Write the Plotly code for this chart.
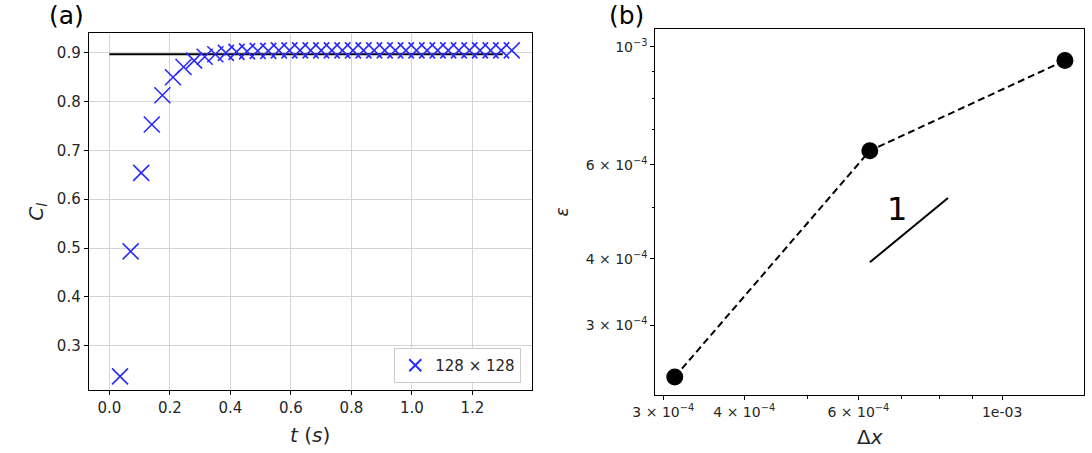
import math
import plotly.graph_objects as go

# ---------------- data: panel (a) ----------------
t_values = [0.035, 0.070, 0.105, 0.140, 0.175, 0.210, 0.245, 0.280, 0.315, 0.350,
            0.385, 0.420, 0.455, 0.490, 0.525, 0.560, 0.595, 0.630, 0.665, 0.700,
            0.735, 0.770, 0.805, 0.840, 0.875, 0.910, 0.945, 0.980, 1.015, 1.050,
            1.085, 1.120, 1.155, 1.190, 1.225, 1.260, 1.295, 1.330]
cl_values = [0.237, 0.493, 0.654, 0.753, 0.813, 0.850, 0.871, 0.884, 0.892, 0.897,
             0.900, 0.902, 0.903, 0.904, 0.904, 0.905, 0.905, 0.905, 0.905, 0.905,
             0.905, 0.905, 0.905, 0.905, 0.905, 0.905, 0.905, 0.905, 0.905, 0.905,
             0.905, 0.905, 0.905, 0.905, 0.905, 0.905, 0.905, 0.905]
ref_t = [0.0, 1.3]
ref_cl = [0.897, 0.897]
series_name = "128 × 128"

# ---------------- data: panel (b) ----------------
dx_values = [3.125e-4, 6.25e-4, 1.25e-3]
err_values = [2.40e-4, 6.38e-4, 9.42e-4]
slope_x = [6.25e-4, 8.25e-4]
slope_y = [3.94e-4, 5.20e-4]
slope_label = "1"
slope_label_pos = (6.88e-4, 4.97e-4)

xb_tickvals = [3e-4, 4e-4, 6e-4, 1e-3]
xb_ticktext = ["3 × 10<sup>−4</sup>", "4 × 10<sup>−4</sup>", "6 × 10<sup>−4</sup>", "1e-03"]
xb_minor = [5e-4, 7e-4, 8e-4, 9e-4]
yb_tickvals = [3e-4, 4e-4, 6e-4, 1e-3]
yb_ticktext = ["3 × 10<sup>−4</sup>", "4 × 10<sup>−4</sup>", "6 × 10<sup>−4</sup>", "10<sup>−3</sup>"]
yb_minor = [5e-4, 7e-4, 8e-4, 9e-4]
grid_b = 1e-3

W, H = 1092, 453
FONT = "DejaVu Sans"
TXT = "#262626"
GRID = "#d4d4d4"

fig = go.Figure()

fig.add_trace(go.Scatter(x=ref_t, y=ref_cl, mode="lines",
                         line=dict(color="black", width=2),
                         showlegend=False, xaxis="x", yaxis="y"))
fig.add_trace(go.Scatter(x=t_values, y=cl_values, mode="markers", name=series_name,
                         marker=dict(symbol="x-thin-open", size=16, color="#2a2aff",
                                     line=dict(color="#2a2aff", width=1.6)),
                         xaxis="x", yaxis="y"))

fig.add_trace(go.Scatter(x=dx_values, y=err_values, mode="lines+markers",
                         line=dict(color="black", width=2, dash="7px,4px"),
                         marker=dict(color="black", size=17),
                         showlegend=False, xaxis="x2", yaxis="y2"))
fig.add_trace(go.Scatter(x=slope_x, y=slope_y, mode="lines",
                         line=dict(color="black", width=2),
                         showlegend=False, xaxis="x2", yaxis="y2"))

def px_x(p):
    return p / W

def px_y(p):
    return (H - p) / H

axis_common = dict(showline=True, linecolor="black", linewidth=1.3, mirror=True,
                   ticks="outside", ticklen=4, tickcolor="black", zeroline=False,
                   tickfont=dict(family=FONT, size=15, color=TXT))
log_font = dict(family=FONT, size=14, color=TXT)

fig.update_layout(
    width=W, height=H,
    margin=dict(l=0, r=0, t=0, b=0),
    paper_bgcolor="white", plot_bgcolor="white",
    font=dict(family=FONT, color=TXT),
    xaxis=dict(domain=[px_x(67.3), px_x(520)], range=[-0.068, 1.397], anchor="y",
               tickvals=[0.0, 0.2, 0.4, 0.6, 0.8, 1.0, 1.2],
               ticktext=["0.0", "0.2", "0.4", "0.6", "0.8", "1.0", "1.2"],
               showgrid=True, gridcolor=GRID, gridwidth=1.2, **axis_common),
    yaxis=dict(domain=[px_y(390), px_y(33.3)], range=[0.209, 0.940], anchor="x",
               tickvals=[0.3, 0.4, 0.5, 0.6, 0.7, 0.8, 0.9],
               ticktext=["0.3", "0.4", "0.5", "0.6", "0.7", "0.8", "0.9"],
               showgrid=True, gridcolor=GRID, gridwidth=1.2, **axis_common),
    xaxis2=dict(domain=[px_x(646), px_x(1084)], type="log", range=[-3.535, -2.8734],
                anchor="y2", tickvals=xb_tickvals, ticktext=xb_ticktext, showgrid=False,
                minor=dict(tickvals=xb_minor, ticklen=2.5, ticks="outside",
                           tickcolor="black", showgrid=False),
                **{**axis_common, "tickfont": log_font}),
    yaxis2=dict(domain=[px_y(395), px_y(29.3)], type="log", range=[-3.6535, -2.9674],
                anchor="x2", tickvals=yb_tickvals, ticktext=yb_ticktext, showgrid=False,
                minor=dict(tickvals=yb_minor, ticklen=2.5, ticks="outside",
                           tickcolor="black", showgrid=False),
                **{**axis_common, "tickfont": log_font}),
    legend=dict(x=px_x(509), y=px_y(383), xanchor="right", yanchor="bottom",
                bgcolor="white", bordercolor="#cccccc", borderwidth=1,
                font=dict(family=FONT, size=15, color=TXT),
                itemsizing="constant"),
    showlegend=True,
)

# single major gridlines for log panel (at 1e-3)
fig.add_shape(type="line", xref="x2", yref="y2 domain",
              x0=math.log10(grid_b), x1=math.log10(grid_b), y0=0, y1=1,
              line=dict(color=GRID, width=1.3), layer="below")
fig.add_shape(type="line", xref="x2 domain", yref="y2",
              x0=0, x1=1, y0=math.log10(grid_b), y1=math.log10(grid_b),
              line=dict(color=GRID, width=1.3), layer="below")

annos = [
    dict(text="(a)", x=px_x(44), y=px_y(0), xref="paper", yref="paper", yanchor="top",
         borderpad=0, font=dict(size=25, family=FONT, color="black")),
    dict(text="(b)", x=px_x(616), y=px_y(0), xref="paper", yref="paper", yanchor="top",
         borderpad=0, font=dict(size=25, family=FONT, color="black")),
    dict(text="<i>t</i> (<i>s</i>)", x=px_x(293.6), y=px_y(435), xref="paper", yref="paper",
         font=dict(size=20, family=FONT, color=TXT)),
    dict(text="<i>C<sub>l</sub></i>", x=px_x(14), y=px_y(212), xref="paper", yref="paper",
         textangle=-90, font=dict(size=20, family=FONT, color=TXT)),
    dict(text="Δ<i>x</i>", x=px_x(865), y=px_y(437), xref="paper", yref="paper",
         font=dict(size=20, family=FONT, color=TXT)),
    dict(text="<i>ε</i>", x=px_x(551), y=px_y(212), xref="paper", yref="paper",
         textangle=-90, font=dict(size=17, family=FONT, color=TXT)),
    dict(text=slope_label, x=math.log10(slope_label_pos[0]), y=math.log10(slope_label_pos[1]),
         xref="x2", yref="y2", font=dict(size=32, family=FONT, color="black")),
]
for a in annos:
    a.setdefault("showarrow", False)
    a.setdefault("xanchor", "center")
    a.setdefault("yanchor", "middle")
    fig.add_annotation(**a)

fig.write_html("out.html")
